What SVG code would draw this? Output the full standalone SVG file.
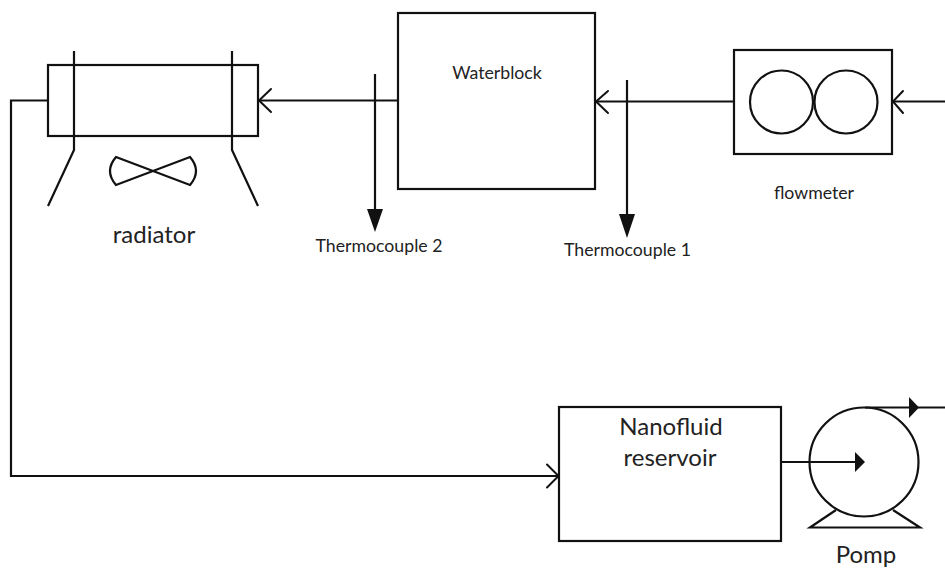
<svg xmlns="http://www.w3.org/2000/svg" width="945" height="568" viewBox="0 0 945 568">
<style>
.s{fill:none;stroke:#111;stroke-width:2.2;stroke-linejoin:miter}
.o{fill:none;stroke:#111;stroke-width:2;stroke-linecap:round}
.a{fill:#111;stroke:none}
text{font-family:"Lato","Open Sans","Noto Sans",sans-serif;fill:#222;text-anchor:middle}
.b{font-size:24px}
.m{font-size:17.700px}
</style>
<rect width="945" height="568" fill="#fff"/>
<g id="connectors">
<path class="s" d="M48 100.500H11V476H557"/>
<path class="o" d="M547 464.500L558.500 476L547 487.500"/>
<path class="s" d="M398 100.500H259"/>
<path class="o" d="M271 89L259 100.500L271 112"/>
<path class="s" d="M734 101.500H596"/>
<path class="o" d="M608 91L596 101.500L608 113"/>
<path class="s" d="M945 101.500H893"/>
<path class="o" d="M903 91L893 101.500L903 113"/>
<path class="s" d="M375 74V210"/>
<polygon class="a" points="367,209 383,209 375,232"/>
<path class="s" d="M627 80V215"/>
<polygon class="a" points="619,214 635,214 627,238"/>
<path class="s" d="M781 462H856"/>
<polygon class="a" points="855,452 865,462 855,472"/>
<path class="s" d="M865 407.500H945"/>
<polygon class="a" points="909,397 919,407.500 909,418"/>
</g>
<g id="radiator">
<rect class="s" x="48" y="65" width="210" height="71"/>
<path class="s" d="M74 51V150L48 206"/>
<path class="s" d="M232 51V150L258 206"/>
<path class="s" d="M116 157L190 185Q202 171 190 157L116 185Q104 171 116 157Z"/>
<text class="b" x="154" y="243">radiator</text>
</g>
<g id="waterblock">
<rect class="s" x="398" y="13" width="197" height="176"/>
<text class="m" x="497" y="79">Waterblock</text>
</g>
<g id="thermocouple-2"><text class="m" x="379" y="252">Thermocouple 2</text></g>
<g id="thermocouple-1"><text class="m" x="627.500" y="255.500">Thermocouple 1</text></g>
<g id="flowmeter">
<rect class="s" x="734" y="50" width="158" height="104"/>
<circle class="s" cx="781.500" cy="102" r="31.500"/>
<circle class="s" cx="846" cy="102" r="31.500"/>
<text class="m" x="814" y="199">flowmeter</text>
</g>
<g id="nanofluid-reservoir">
<rect class="s" x="559" y="407" width="222" height="134"/>
<text class="b" x="671" y="435">Nanofluid</text>
<text class="b" x="670" y="466">reservoir</text>
</g>
<g id="pomp">
<circle class="s" cx="864" cy="462" r="54.500"/>
<path class="s" d="M836 510L810 527.500H920L893 510"/>
<text class="b" x="866" y="563">Pomp</text>
</g>
</svg>
